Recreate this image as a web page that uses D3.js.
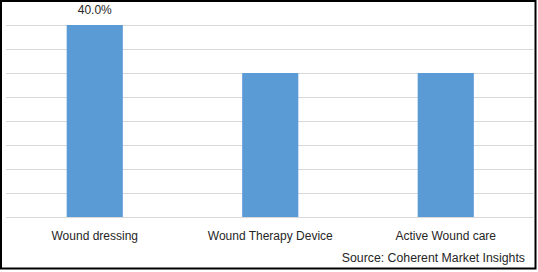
<!DOCTYPE html>
<html>
<head>
<meta charset="utf-8">
<script src="https://cdn.jsdelivr.net/npm/d3@7"></script>
<style>
  body { margin: 0; background: #fff; }
  svg text { font-family: "Liberation Sans", Arial, sans-serif; fill: #262626; }
</style>
</head>
<body>
<svg id="chart" width="538" height="272"></svg>
<script>
// données
const categories = ["Wound dressing", "Wound Therapy Device", "Active Wound care"];
const values = [40, 30, 30];
const valueLabels = ["40.0%", "", ""];
const gridTicks = [0, 5, 10, 15, 20, 25, 30, 35, 40];
const source = "Source: Coherent Market Insights";

const svg = d3.select("#chart");

// cadre noir autour du graphique
svg.append("rect")
  .attr("x", 1)
  .attr("y", 1)
  .attr("width", 534.5)
  .attr("height", 267.5)
  .attr("fill", "#fff")
  .attr("stroke", "#000")
  .attr("stroke-width", 2);

const x = d3.scaleBand()
  .domain(categories)
  .range([7, 533.5])
  .paddingInner(0.68)
  .paddingOuter(0.34);

const y = d3.scaleLinear().domain([0, 40]).range([217, 25]);

// lignes de grille
svg.append("g")
  .selectAll("line")
  .data(gridTicks)
  .enter()
  .append("line")
  .attr("x1", 6)
  .attr("x2", 533.5)
  .attr("y1", (d) => Math.round(y(d)) + 0.5)
  .attr("y2", (d) => Math.round(y(d)) + 0.5)
  .attr("stroke", "#d9d9d9")
  .attr("stroke-width", 1);

// barres
svg.append("g")
  .selectAll("rect")
  .data(values)
  .enter()
  .append("rect")
  .attr("x", (d, i) => x(categories[i]))
  .attr("y", (d) => y(d))
  .attr("width", x.bandwidth())
  .attr("height", (d) => y(0) - y(d))
  .attr("fill", "#5b9bd5");

// étiquettes de valeur
svg.append("g")
  .selectAll("text")
  .data(valueLabels)
  .enter()
  .append("text")
  .attr("x", (d, i) => x(categories[i]) + x.bandwidth() / 2)
  .attr("y", (d, i) => y(values[i]) - 11)
  .attr("text-anchor", "middle")
  .style("font-size", "12px")
  .text((d) => d);

// axe des catégories
svg.append("g")
  .selectAll("text")
  .data(categories)
  .enter()
  .append("text")
  .attr("x", (d) => x(d) + x.bandwidth() / 2)
  .attr("y", 240)
  .attr("text-anchor", "middle")
  .style("font-size", "12px")
  .text((d) => d);

svg.append("text")
  .attr("x", 525)
  .attr("y", 262)
  .attr("text-anchor", "end")
  .style("font-size", "12.3px")
  .text(source);
</script>
</body>
</html>
